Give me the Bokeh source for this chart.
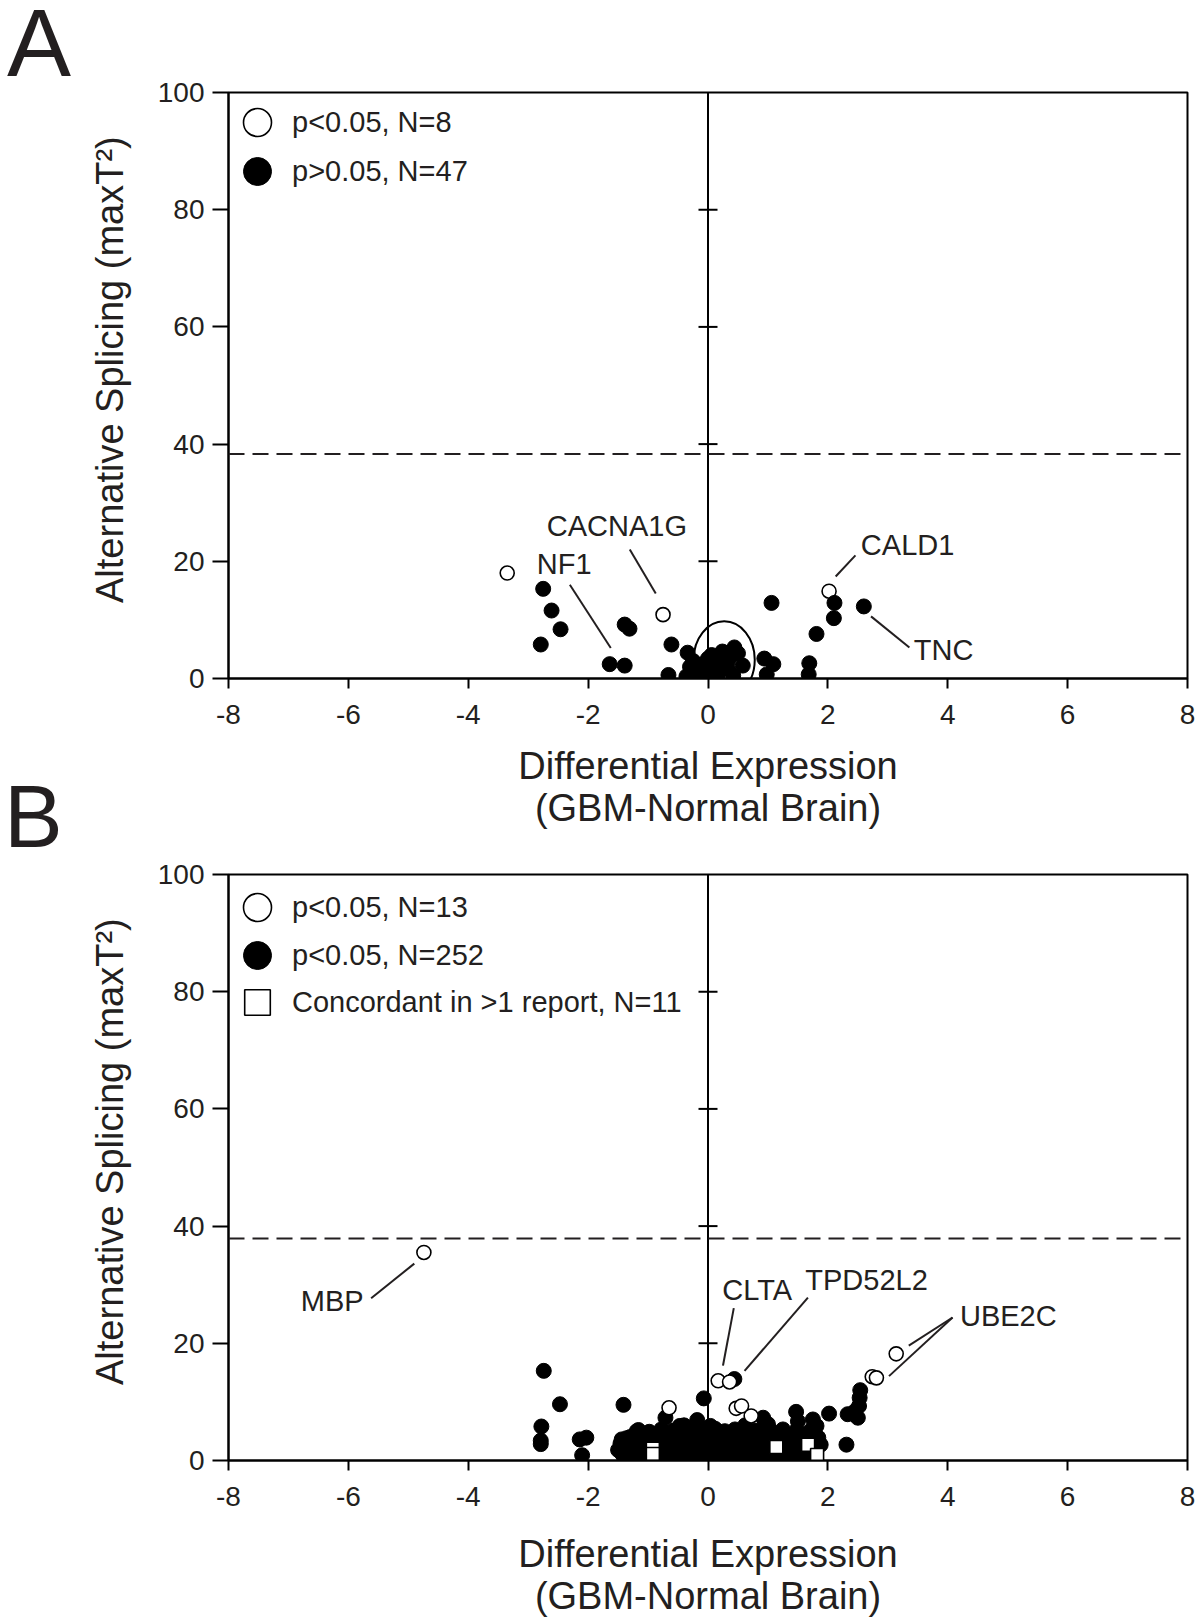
from bokeh.plotting import figure
from bokeh.models import (Range1d, FixedTicker, Span, Legend, LegendItem, Div, Spacer,
                          GlobalInlineStyleSheet)
from bokeh.layouts import column, row
from bokeh.embed import file_html
from bokeh.resources import INLINE
from bokeh.core.properties import value

# ---------------- data ----------------
x_ticks = [-8, -6, -4, -2, 0, 2, 4, 6, 8]
x_tick_labels = ["-8", "-6", "-4", "-2", "0", "2", "4", "6", "8"]
y_ticks = [0, 20, 40, 60, 80, 100]
y_tick_labels = ["0", "20", "40", "60", "80", "100"]
center_ticks = [20, 40, 60, 80]

x_title = "Differential Expression\n(GBM-Normal Brain)"
y_title = "Alternative Splicing (maxT\u00b2)"

# Panel A
a_open_x = [-3.35, -0.75, 2.02]
a_open_y = [18.0, 10.9, 14.9]
a_fill_x = [-2.75, -2.61, -2.46, -2.79, -1.39, -1.31, -1.64, -1.39, -0.61, -0.66, -0.36, -0.34,
            1.06, 0.94, 1.09, 0.98, 1.69, 1.68, 1.81, 2.11, 2.10, 2.60,
            -0.25, -0.18, -0.10, -0.05, 0.00, 0.06, 0.10, 0.12, 0.18, 0.22, 0.26, 0.30, 0.34,
            0.38, 0.44, 0.40, 0.50, 0.58, 0.42, -0.14, 0.05, 0.16, 0.33, -0.30, 0.24]
a_fill_y = [15.3, 11.6, 8.4, 5.8, 9.2, 8.5, 2.45, 2.2, 5.8, 0.6, 0.35, 4.4,
            12.9, 3.4, 2.45, 0.7, 2.6, 0.7, 7.6, 12.9, 10.3, 12.3,
            3.0, 1.6, 2.4, 1.2, 3.4, 4.0, 1.9, 2.8, 3.4, 1.5, 2.6, 4.3, 3.2,
            4.0, 5.3, 4.6, 4.3, 2.2, 0.5, 0.9, 0.8, 0.4, 1.8, 2.0, 4.6]
a_threshold = 38.3
a_cluster_x, a_cluster_y, a_cluster_w, a_cluster_h = 0.27, 3.2, 1.02, 13.1
a_legend = ["p<0.05, N=8", "p>0.05, N=47"]
a_genes = ["CACNA1G", "NF1", "CALD1", "TNC"]
a_gene_x = [-1.52, -2.40, 3.33, 3.93]
a_gene_y = [26.0, 19.6, 22.8, 4.8]
a_lead_x0 = [-1.305, -2.305, 2.46, 2.72]
a_lead_y0 = [22.0, 16.0, 21.0, 10.6]
a_lead_x1 = [-0.872, -1.622, 2.13, 3.36]
a_lead_y1 = [14.5, 5.2, 17.4, 5.3]

# Panel B
b_open_x = [-4.74, -0.65, 0.17, 0.36, 0.47, 0.56, 0.72, 2.74, 2.81, 3.14]
b_open_y = [35.5, 9.0, 13.6, 13.4, 8.9, 9.3, 7.6, 14.3, 14.1, 18.2]
b_sq_x = [-0.92, -0.92, 1.14, 1.67, 1.82]
b_sq_y = [2.0, 1.1, 2.3, 2.7, 0.95]
b_fill_x = [-2.74, -2.47, -2.78, -2.79, -2.79, -2.14, -2.03, -2.10, -1.41, -1.44, -1.36, -1.43,
            -1.16, -1.16, -0.71, -0.47, -0.18, -0.07, 0.04, 0.44, 0.92, 1.00, 1.25, 1.47, 1.50,
            1.75, 1.81, 2.02, 1.72, 2.31, 2.33, 2.50, 2.52, 2.53, 2.54, 2.45,
            -1.40, -1.24, -1.07, -0.91, -0.76, -0.60, -0.44, -0.29, -0.13, 0.02, 0.17, 0.33,
            0.48, 0.64, 0.79, 0.95, 1.10, 1.26, 1.41, 1.57, 1.72,
            -1.50, -1.33, -1.17, -1.00, -0.84, -0.68, -0.52, -0.37, -0.21, -0.06, 0.09, 0.24,
            0.40, 0.55, 0.70, 0.86, 1.01, 1.17, 1.32, 1.48, 1.63, 1.80,
            -1.46, -1.29, -1.12, -0.96, -0.80, -0.64, -0.48, -0.33, -0.17, -0.02, 0.13, 0.28,
            0.44, 0.59, 0.74, 0.90, 1.05, 1.21, 1.36, 1.52, 1.70, 1.88,
            -1.30, -1.12, -0.95, -0.79, -0.62, -0.46, -0.31, -0.15, 0.00, 0.16, 0.31, 0.47,
            0.62, 0.78, 0.94, 1.10, 1.28, 1.46, 1.64, 1.84,
            -1.19, -0.98, -0.78, -0.58, -0.40, -0.24, -0.06, 0.12, 0.28, 0.45, 0.62, 0.80,
            1.02, 1.22, 1.48, 1.70]
b_fill_y = [15.3, 9.6, 5.8, 3.4, 2.8, 3.6, 3.9, 0.9, 9.5, 3.6, 3.8, 1.1,
            5.2, 2.3, 7.3, 5.9, 6.9, 10.6, 5.9, 13.9, 7.3, 6.2, 5.3, 8.3, 6.7,
            7.0, 5.9, 8.0, 5.0, 2.7, 7.9, 7.3, 9.3, 10.7, 12.0, 8.4,
            0.6, 0.9, 0.5, 0.8, 0.6, 0.4, 0.9, 0.6, 0.5, 0.8, 0.4, 0.7,
            0.6, 0.9, 0.5, 0.7, 0.4, 0.8, 0.6, 0.5, 0.7,
            1.8, 1.5, 1.9, 1.6, 1.7, 2.0, 1.5, 1.8, 1.6, 1.9, 1.4, 1.7,
            2.0, 1.6, 1.8, 1.5, 1.9, 1.7, 1.6, 2.0, 1.5, 1.8,
            2.9, 2.6, 3.0, 2.7, 2.8, 3.1, 2.6, 2.9, 3.0, 2.7, 2.8, 3.1,
            2.6, 2.9, 2.7, 3.0, 2.8, 2.6, 3.1, 2.8, 2.9, 2.7,
            4.0, 3.8, 4.2, 3.9, 4.1, 3.7, 4.0, 4.3, 3.8, 4.1, 3.9, 4.2,
            3.7, 4.0, 4.3, 3.9, 4.1, 3.8, 4.0, 3.9,
            5.0, 4.9, 5.3, 5.1, 6.0, 5.2, 4.9, 5.4, 5.0, 5.3, 6.0, 5.1,
            5.4, 4.9, 5.2, 5.0]
b_threshold = 37.9
b_legend = ["p<0.05, N=13", "p<0.05, N=252", "Concordant in >1 report, N=11"]
b_genes = ["MBP", "CLTA", "TPD52L2", "UBE2C"]
b_gene_x = [-6.27, 0.82, 2.645, 5.01]
b_gene_y = [27.3, 29.1, 30.8, 24.7]
b_lead_x0 = [-5.62, 0.43, 1.667, 4.08, 4.08]
b_lead_y0 = [27.7, 26.0, 27.8, 24.4, 24.4]
b_lead_x1 = [-4.90, 0.25, 0.61, 3.35, 3.02]
b_lead_y1 = [33.6, 16.2, 15.3, 19.6, 14.4]

# ---------------- style ----------------
INK = "#231f20"
FONT = "Liberation Sans"
FRAME_W, FRAME_H = 959, 586
LEFT_COL = 85


def base_figure(min_top, min_bottom, title_standoff):
    p = figure(frame_width=FRAME_W, frame_height=FRAME_H,
               x_range=Range1d(x_ticks[0], x_ticks[-1]), y_range=Range1d(y_ticks[0], y_ticks[-1]),
               min_border_left=226 - LEFT_COL, min_border_right=12, min_border_top=min_top,
               min_border_bottom=min_bottom, toolbar_location=None, output_backend="svg",
               title=None, background_fill_color="white", border_fill_color="white")
    p.xgrid.visible = False
    p.ygrid.visible = False
    p.outline_line_color = "black"
    p.outline_line_width = 2
    p.outline_line_alpha = 1
    p.xaxis.ticker = FixedTicker(ticks=x_ticks)
    p.yaxis.ticker = FixedTicker(ticks=y_ticks)
    p.xaxis.major_label_overrides = dict(zip(x_ticks, x_tick_labels))
    p.yaxis.major_label_overrides = dict(zip(y_ticks, y_tick_labels))
    for ax in (p.xaxis[0], p.yaxis[0]):
        ax.axis_line_width = 2
        ax.axis_line_color = "black"
        ax.major_tick_line_width = 2
        ax.major_tick_line_color = "black"
        ax.minor_tick_line_color = None
        ax.major_tick_in = 0
        ax.major_label_text_font = FONT
        ax.major_label_text_font_size = "28px"
        ax.major_label_text_color = INK
        ax.axis_label_text_font = FONT
        ax.axis_label_text_font_size = "38px"
        ax.axis_label_text_font_style = "normal"
        ax.axis_label_text_color = INK
    p.xaxis.major_tick_out = 10
    p.xaxis.major_label_standoff = 16
    p.yaxis.major_tick_out = 16
    p.yaxis.major_label_standoff = 8
    p.xaxis.axis_label = x_title
    p.xaxis.axis_label_standoff = title_standoff
    p.xaxis.axis_label_text_line_height = 1.0
    p.yaxis.axis_label = "\u00a0\u00a0\u00a0" + y_title
    p.yaxis.axis_label_standoff = 24

    # vertical line at 0 with cross ticks
    p.add_layout(Span(location=0, dimension="height", line_color="black", line_width=2))
    p.scatter(x=[0 for _ in center_ticks], y=center_ticks, marker="dash", size=19,
              line_color="black", line_width=2)
    return p


def add_genes(p, genes, gx, gy, lx0, ly0, lx1, ly1):
    p.segment(x0=lx0, y0=ly0, x1=lx1, y1=ly1, line_color=INK, line_width=2)
    p.text(x=gx, y=gy, text=genes, text_font=value(FONT), text_font_size="29px",
           text_align="center", text_baseline="middle", text_color=INK)


def one_legend(label, renderer, vy, gh=70):
    return Legend(items=[LegendItem(label=label, renderers=[renderer])], location=(-6, vy),
                  glyph_width=70, glyph_height=gh, label_standoff=0, padding=0, spacing=0,
                  margin=0, border_line_color=None, background_fill_alpha=0,
                  label_text_font=FONT, label_text_font_size="29px", label_text_color=INK)


letter_css = GlobalInlineStyleSheet(css=(
    '@font-face{font-family:"PanelLetter";src:local("Liberation Sans"),local("LiberationSans");'
    'ascent-override:73%;descent-override:21%;line-gap-override:0%;}'))


def letter_div(letter, size, line_h, pad_left):
    html = ('<div style="font-family:PanelLetter,\'Liberation Sans\',Arial,sans-serif;color:%s;'
            'margin:0;padding:0 0 0 %dpx;font-size:%dpx;line-height:%dpx;white-space:nowrap;">'
            '%s</div>' % (INK, pad_left, size, line_h, letter))
    return Div(text=html, width=LEFT_COL, height=line_h, margin=(0, 0, 0, 0),
               stylesheets=[letter_css])


# ---------------- panel A ----------------
pa = base_figure(92, 174, 18)
pa.add_layout(Span(location=a_threshold, dimension="width", line_color=INK, line_width=2,
                   line_dash="16 8"))
pa.ellipse(x=[a_cluster_x], y=[a_cluster_y], width=a_cluster_w, height=a_cluster_h,
           fill_alpha=0, line_color="black", line_width=2)
add_genes(pa, a_genes, a_gene_x, a_gene_y, a_lead_x0, a_lead_y0, a_lead_x1, a_lead_y1)
ra_open = pa.scatter(x=a_open_x, y=a_open_y, marker="circle", size=14, fill_color="white",
                     line_color="black", line_width=1.6)
ra_fill = pa.scatter(x=a_fill_x, y=a_fill_y, marker="circle", size=15, fill_color="black",
                     line_color="black", line_width=1)
pa.add_layout(one_legend(a_legend[0], ra_open, 521))
pa.add_layout(one_legend(a_legend[1], ra_fill, 472))

# ---------------- panel B ----------------
pb = base_figure(22, 161, 24)
pb.add_layout(Span(location=b_threshold, dimension="width", line_color=INK, line_width=2,
                   line_dash="16 8"))
add_genes(pb, b_genes, b_gene_x, b_gene_y, b_lead_x0, b_lead_y0, b_lead_x1, b_lead_y1)
rb_fill = pb.scatter(x=b_fill_x, y=b_fill_y, marker="circle", size=15, fill_color="black",
                     line_color="black", line_width=1)
rb_open = pb.scatter(x=b_open_x, y=b_open_y, marker="circle", size=14, fill_color="white",
                     line_color="black", line_width=1.6)
rb_sq = pb.scatter(x=b_sq_x, y=b_sq_y, marker="square", size=13, fill_color="white",
                   line_color="black", line_width=1.6)
pb.add_layout(one_legend(b_legend[0], rb_open, 518))
pb.add_layout(one_legend(b_legend[1], rb_fill, 470))
pb.add_layout(one_legend(b_legend[2], rb_sq, 426, gh=64))

# ---------------- page ----------------
div_a = letter_div("A", 96, 102, 7)
div_b = letter_div("B", 88, 84, 4)
left = column(div_a, Spacer(width=LEFT_COL, height=680, margin=(0, 0, 0, 0)), div_b, spacing=0)
right = column(pa, pb, spacing=0)
layout = row(left, right, spacing=0)
open("out.html", "w").write(file_html(layout, INLINE))
